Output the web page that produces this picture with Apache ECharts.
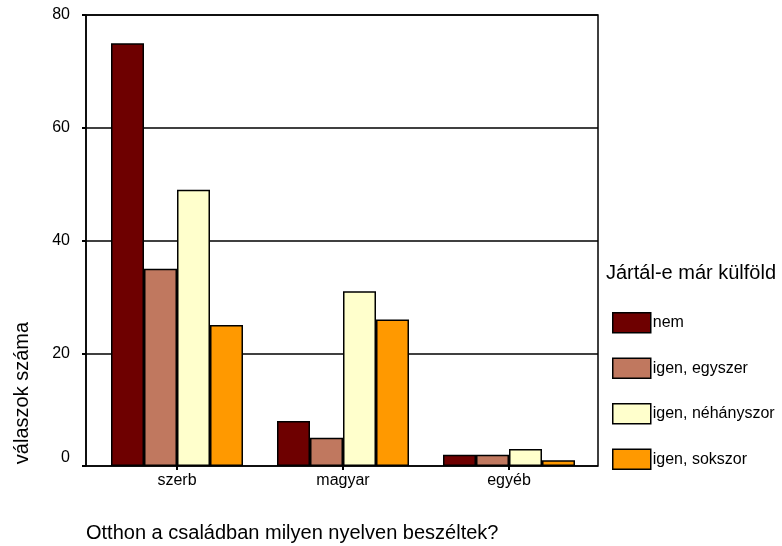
<!DOCTYPE html>
<html><head><meta charset="utf-8">
<script src="https://cdn.jsdelivr.net/npm/echarts@6/dist/echarts.min.js"></script>
<style>html,body{margin:0;padding:0;background:#fff}#c{width:782px;height:546px}</style>
</head><body><div id="c"></div>
<script>
const categories = ['szerb', 'magyar', 'egyéb'];
const seriesNames = ['nem', 'igen, egyszer', 'igen, néhányszor', 'igen, sokszor'];
const nem = [75, 8, 2];
const egyszer = [35, 5, 2];
const nehanyszor = [49, 31, 3];
const sokszor = [25, 26, 1];
const yTicks = [0, 20, 40, 60, 80];
const colors = ['#6E0000', '#C0785F', '#FFFFCC', '#FF9900'];
const values = [nem, egyszer, nehanyszor, sokszor];
const FONT = '"Liberation Sans", Arial, sans-serif';

const chart = echarts.init(document.getElementById('c'));
chart.setOption({
  animation: false,
  grid: [
    {left: 86, top: 15, right: 184, bottom: 80, show: true, borderColor: '#000', borderWidth: 1.5, backgroundColor: 'transparent'},
    {left: 94, top: 15, right: 190, bottom: 80}
  ],
  xAxis: [
    {gridIndex: 0, type: 'value', show: false, min: 0, max: 1},
    {gridIndex: 1, type: 'category', data: categories,
     axisLine: {show: false},
     axisTick: {show: true, alignWithLabel: true, length: 4, lineStyle: {color: '#000', width: 2}},
     axisLabel: {color: '#000', fontSize: 16, fontFamily: FONT, margin: 7}}
  ],
  yAxis: [
    {gridIndex: 0, type: 'value', min: yTicks[0], max: yTicks[yTicks.length-1], interval: 20,
     axisLine: {show: true, lineStyle: {color: '#000', width: 1.5}},
     axisTick: {show: true, length: 4, lineStyle: {color: '#000', width: 2}},
     axisLabel: {color: '#000', fontSize: 16, fontFamily: FONT, margin: 16,
                 verticalAlignMinLabel: 'bottom'},
     splitLine: {show: true, lineStyle: {color: '#000', width: 1.5}}},
    {gridIndex: 1, type: 'value', min: 0, max: 80, show: false, splitLine: {show: false}}
  ],
  legend: {
    orient: 'vertical', left: 612, top: 312, padding: 0,
    itemWidth: 38, itemHeight: 20, itemGap: 24, icon: 'rect',
    itemStyle: {borderColor: '#000', borderWidth: 1.5},
    textStyle: {color: '#000', fontSize: 16, fontFamily: FONT, padding: [0, 0, 0, -3]},
    data: seriesNames
  },
  graphic: [
    {type: 'text', x: 606, y: 273, style: {text: 'Jártál-e már külföld', fill: '#000', font: '20px ' + FONT, verticalAlign: 'middle'}},
    {type: 'text', x: 86, y: 533, style: {text: 'Otthon a családban milyen nyelven beszéltek?', fill: '#000', font: '20px ' + FONT, verticalAlign: 'middle'}},
    {type: 'text', x: 22, y: 393, rotation: Math.PI / 2, style: {text: 'válaszok száma', fill: '#000', font: '20px ' + FONT, align: 'center', verticalAlign: 'middle'}}
  ],
  series: seriesNames.map((n, i) => ({
    name: n, type: 'bar', xAxisIndex: 1, yAxisIndex: 1,
    data: values[i], barWidth: 33, barGap: '0%',
    itemStyle: {color: colors[i], borderColor: '#000', borderWidth: 1.5}
  }))
});
</script></body></html>
